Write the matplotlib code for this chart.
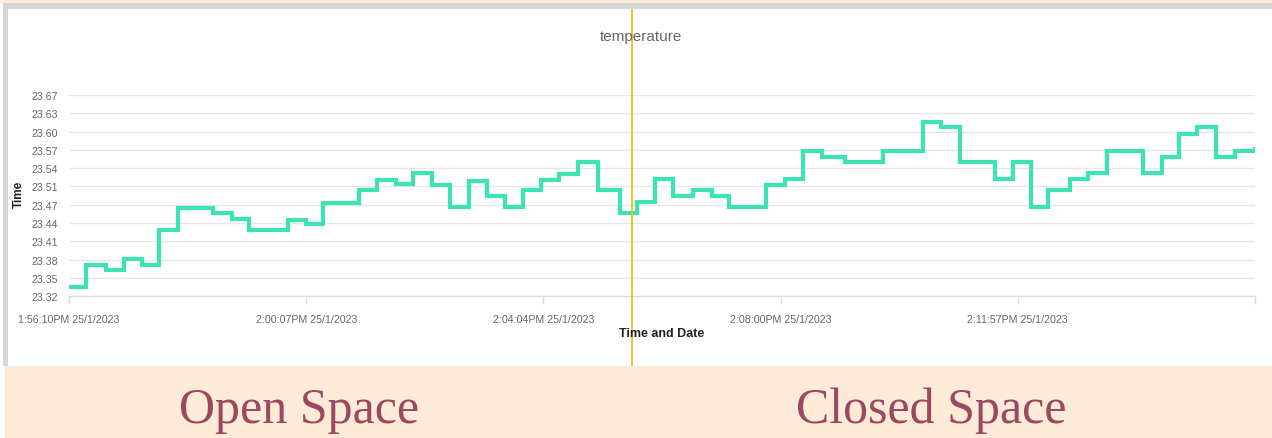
import matplotlib
matplotlib.use("Agg")
import matplotlib.pyplot as plt
import numpy as np
from matplotlib.patches import Rectangle

plt.rcParams['font.family'] = ['Liberation Sans', 'DejaVu Sans']

# ---------------- data ----------------
# seconds after 1:56:10 PM at which a new reading starts (stepped line)
times_s = [0, 17, 37, 55, 73, 90, 109, 144, 163, 180, 219, 237, 254,
           290, 308, 327, 344, 363, 381, 400, 418, 436, 454, 472, 490,
           509, 529, 551, 568, 586, 604, 624, 643, 660, 697, 716, 734,
           753, 776, 814, 854, 872, 891, 926, 944, 962, 979, 1001, 1019,
           1038, 1074, 1093, 1110, 1128, 1147, 1166, 1186]
temps = [23.336, 23.374, 23.366, 23.385, 23.374, 23.435, 23.474, 23.464,
         23.454, 23.435, 23.453, 23.445, 23.483, 23.504, 23.523, 23.515,
         23.534, 23.514, 23.475, 23.521, 23.495, 23.475, 23.504, 23.523,
         23.533, 23.553, 23.504, 23.465, 23.484, 23.524, 23.494, 23.504,
         23.494, 23.475, 23.513, 23.524, 23.573, 23.563, 23.553, 23.573,
         23.623, 23.614, 23.553, 23.524, 23.553, 23.475, 23.504, 23.524,
         23.534, 23.573, 23.534, 23.563, 23.602, 23.614, 23.563, 23.573,
         23.579]
x_tick_labels = ["1:56:10PM 25/1/2023", "2:00:07PM 25/1/2023",
                 "2:04:04PM 25/1/2023", "2:08:00PM 25/1/2023",
                 "2:11:57PM 25/1/2023", ""]
y_tick_labels = ["23.32", "23.35", "23.38", "23.41", "23.44", "23.47",
                 "23.51", "23.54", "23.57", "23.60", "23.63", "23.67"]
divider_s = 563
title = "temperature"
section_labels = ["Open Space", "Closed Space"]

# ---------------- layout ----------------
W, H = 1272, 439
fig = plt.figure(figsize=(W / 100, H / 100), dpi=100, facecolor="white")


def fx(x):
    return x / W


def fy(y):
    return 1 - y / H


PEACH = "#fdebd7"
GRAY = "#d6d6d6"

# frame decorations
fig.add_artist(Rectangle((0, fy(4)), 1, 4 / H, transform=fig.transFigure,
                         color=PEACH, zorder=1, lw=0))
fig.add_artist(Rectangle((fx(3), fy(9.5)), 1, 5.5 / H, transform=fig.transFigure,
                         color=GRAY, zorder=1, lw=0))
fig.add_artist(Rectangle((fx(3.5), fy(367)), 4.5 / W, (367 - 4) / H,
                         transform=fig.transFigure, color=GRAY, zorder=1, lw=0))
fig.add_artist(Rectangle((fx(5), 0), 1, (H - 367) / H, transform=fig.transFigure,
                         color=PEACH, zorder=2, lw=0))

ax_l, ax_r, ax_t, ax_b = 69, 1255, 96, 297.3
ax = fig.add_axes([fx(ax_l), fy(ax_b), fx(ax_r) - fx(ax_l), fy(ax_t) - fy(ax_b)])
ax.set_facecolor("none")

ax.plot(times_s, temps, drawstyle="steps-post", color="#3de2b5", lw=3.0,
        solid_joinstyle="miter", solid_capstyle="butt", zorder=3)

ax.set_xlim(times_s[0], times_s[-1])
ax.set_ylim(23.32, 23.67)
ax.set_yticks(np.linspace(23.32, 23.67, len(y_tick_labels)), y_tick_labels)
ax.set_xticks(np.linspace(times_s[0], times_s[-1], len(x_tick_labels)), x_tick_labels)
ax.yaxis.grid(True, color="#e6e6e6", lw=1)
ax.set_axisbelow(True)
for s in ["top", "right", "left"]:
    ax.spines[s].set_visible(False)
ax.spines["bottom"].set_color("#dcdcdc")
ax.spines["bottom"].set_linewidth(1)
ax.tick_params(axis="y", length=0, pad=8, labelsize=7.7, labelcolor="#666666")
ax.tick_params(axis="x", length=6, width=1, color="#dcdcdc", pad=7,
               labelsize=7.7, labelcolor="#666666")

# divider line (extends beyond the axes)
h_ax = ax_b - ax_t
ax.axvline(divider_s, ymin=(ax_b - 367) / h_ax, ymax=(ax_b - 10) / h_ax,
           color="#f6b800", lw=1.2, clip_on=False, zorder=5)

# titles
fig.text(fx(641), fy(37.5), title, ha="center", va="center", fontsize=11,
         color="#666666")
fig.text(fx(662), fy(334), "Time and Date", ha="center", va="center",
         fontsize=9, fontweight="bold", color="#222222")
fig.text(fx(18.5), fy(194), "Time", ha="center", va="center", rotation=90,
         fontsize=8.5, fontweight="bold", color="#222222")

# bottom section labels
for label, cx in zip(section_labels, [299, 931]):
    fig.text(fx(cx), fy(423), label, ha="center", va="baseline",
             fontsize=36, family=["Liberation Serif", "DejaVu Serif"],
             color="#9b4860", zorder=3)

fig.savefig("out.png", dpi=100, facecolor="white")
